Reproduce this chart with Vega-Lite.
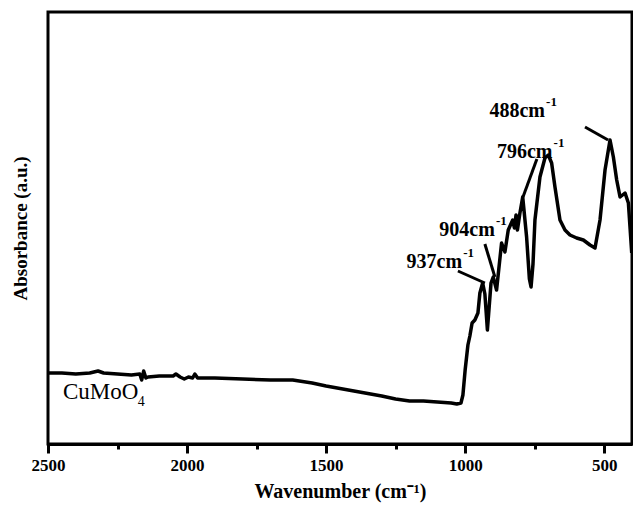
{
  "$schema": "https://vega.github.io/schema/vega-lite/v6.json",
  "width": 584,
  "height": 432,
  "autosize": {"type": "none"},
  "padding": {"left": 48, "top": 12, "right": 1, "bottom": 62},
  "background": "white",
  "config": {
    "view": {"stroke": "black", "strokeWidth": 3},
    "font": "Liberation Serif"
  },
  "datasets": {
    "curve": [
      {"wn": 2500, "a": 71}, {"wn": 2450, "a": 71}, {"wn": 2400, "a": 70}, {"wn": 2350, "a": 71},
      {"wn": 2320, "a": 73}, {"wn": 2300, "a": 71}, {"wn": 2250, "a": 70}, {"wn": 2200, "a": 69},
      {"wn": 2170, "a": 70}, {"wn": 2163, "a": 64}, {"wn": 2156, "a": 73}, {"wn": 2148, "a": 66},
      {"wn": 2140, "a": 67}, {"wn": 2100, "a": 68}, {"wn": 2050, "a": 68}, {"wn": 2040, "a": 70},
      {"wn": 2025, "a": 67}, {"wn": 2010, "a": 65}, {"wn": 1995, "a": 67}, {"wn": 1980, "a": 66},
      {"wn": 1972, "a": 70}, {"wn": 1962, "a": 66}, {"wn": 1900, "a": 66}, {"wn": 1800, "a": 65},
      {"wn": 1700, "a": 64}, {"wn": 1620, "a": 64}, {"wn": 1550, "a": 61}, {"wn": 1500, "a": 58},
      {"wn": 1400, "a": 53}, {"wn": 1300, "a": 48}, {"wn": 1250, "a": 45}, {"wn": 1200, "a": 43},
      {"wn": 1150, "a": 43}, {"wn": 1100, "a": 42}, {"wn": 1050, "a": 41}, {"wn": 1030, "a": 40},
      {"wn": 1015, "a": 41}, {"wn": 1008, "a": 49}, {"wn": 1000, "a": 74}, {"wn": 990, "a": 99},
      {"wn": 983, "a": 108}, {"wn": 975, "a": 121}, {"wn": 965, "a": 124}, {"wn": 954, "a": 131},
      {"wn": 947, "a": 151}, {"wn": 937, "a": 161}, {"wn": 929, "a": 150}, {"wn": 920, "a": 114},
      {"wn": 907, "a": 161}, {"wn": 899, "a": 167}, {"wn": 887, "a": 154}, {"wn": 869, "a": 201},
      {"wn": 857, "a": 192}, {"wn": 845, "a": 214}, {"wn": 829, "a": 224}, {"wn": 823, "a": 216},
      {"wn": 817, "a": 229}, {"wn": 812, "a": 214}, {"wn": 803, "a": 231}, {"wn": 793, "a": 247},
      {"wn": 779, "a": 207}, {"wn": 769, "a": 165}, {"wn": 763, "a": 157}, {"wn": 756, "a": 180},
      {"wn": 749, "a": 224}, {"wn": 731, "a": 267}, {"wn": 713, "a": 286}, {"wn": 701, "a": 289},
      {"wn": 689, "a": 281}, {"wn": 677, "a": 257}, {"wn": 659, "a": 224}, {"wn": 641, "a": 214},
      {"wn": 623, "a": 209}, {"wn": 599, "a": 206}, {"wn": 575, "a": 204}, {"wn": 551, "a": 199},
      {"wn": 533, "a": 196}, {"wn": 515, "a": 224}, {"wn": 497, "a": 274}, {"wn": 479, "a": 304},
      {"wn": 467, "a": 287}, {"wn": 455, "a": 264}, {"wn": 443, "a": 247}, {"wn": 425, "a": 251},
      {"wn": 413, "a": 241}, {"wn": 401, "a": 191}
    ],
    "labels": [
      {"wn": 713, "a": 333, "text": "488cm"},
      {"wn": 686, "a": 292, "text": "796cm"},
      {"wn": 893, "a": 214, "text": "904cm"},
      {"wn": 1011, "a": 182, "text": "937cm"}
    ],
    "sups": [
      {"wn": 709, "a": 342, "text": "-1"},
      {"wn": 682, "a": 301, "text": "-1"},
      {"wn": 889, "a": 223, "text": "-1"},
      {"wn": 1007, "a": 191, "text": "-1"}
    ],
    "leaders": [
      {"wn": 569, "a": 317, "wn2": 486, "a2": 304},
      {"wn": 742, "a": 285, "wn2": 792, "a2": 247},
      {"wn": 929, "a": 200, "wn2": 893, "a2": 167},
      {"wn": 1026, "a": 173, "wn2": 929, "a2": 161}
    ],
    "sample": [{"wn": 2446, "a": 52, "text": "CuMoO"}],
    "sub": [{"wn": 2177, "a": 42, "text": "4"}]
  },
  "layer": [
    {
      "data": {"name": "curve"},
      "mark": {"type": "line", "color": "black", "strokeWidth": 3.5, "clip": true, "strokeJoin": "round"},
      "encoding": {
        "x": {
          "field": "wn", "type": "quantitative",
          "scale": {"domain": [400, 2500], "reverse": true, "nice": false, "zero": false},
          "axis": {
            "values": [500, 750, 1000, 1250, 1500, 1750, 2000, 2250, 2500],
            "labelExpr": "datum.value % 500 === 0 ? datum.label : ''",
            "format": "d",
            "tickSize": {"condition": {"test": "datum.value % 500 === 0", "value": 9}, "value": 5},
            "tickWidth": 3,
            "tickColor": "black",
            "domain": true, "domainColor": "black", "domainWidth": 3,
            "grid": false,
            "labelFont": "Liberation Serif", "labelFontWeight": "bold", "labelFontSize": 17,
            "labelColor": "black", "labelPadding": 4, "labelFlush": false,
            "title": "Wavenumber (cm⁻¹)",
            "titleFont": "Liberation Serif", "titleFontWeight": "bold", "titleFontSize": 20,
            "titleColor": "black", "titlePadding": 8
          }
        },
        "y": {
          "field": "a", "type": "quantitative",
          "scale": {"domain": [0, 432], "nice": false, "zero": false},
          "axis": {
            "labels": false, "ticks": false, "grid": false, "domain": false,
            "title": "Absorbance (a.u.)",
            "titleFont": "Liberation Serif", "titleFontWeight": "bold", "titleFontSize": 19,
            "titleColor": "black", "titlePadding": 18
          }
        }
      }
    },
    {
      "data": {"name": "leaders"},
      "mark": {"type": "rule", "color": "black", "strokeWidth": 3},
      "encoding": {
        "x": {"field": "wn", "type": "quantitative"},
        "y": {"field": "a", "type": "quantitative"},
        "x2": {"field": "wn2"},
        "y2": {"field": "a2"}
      }
    },
    {
      "data": {"name": "labels"},
      "mark": {"type": "text", "align": "right", "baseline": "middle", "font": "Liberation Serif", "fontWeight": "bold", "fontSize": 20, "fill": "black"},
      "encoding": {
        "x": {"field": "wn", "type": "quantitative"},
        "y": {"field": "a", "type": "quantitative"},
        "text": {"field": "text"}
      }
    },
    {
      "data": {"name": "sups"},
      "mark": {"type": "text", "align": "left", "baseline": "middle", "font": "Liberation Serif", "fontWeight": "bold", "fontSize": 13, "fill": "black"},
      "encoding": {
        "x": {"field": "wn", "type": "quantitative"},
        "y": {"field": "a", "type": "quantitative"},
        "text": {"field": "text"}
      }
    },
    {
      "data": {"name": "sample"},
      "mark": {"type": "text", "align": "left", "baseline": "middle", "font": "Liberation Serif", "fontSize": 23, "fill": "black"},
      "encoding": {
        "x": {"field": "wn", "type": "quantitative"},
        "y": {"field": "a", "type": "quantitative"},
        "text": {"field": "text"}
      }
    },
    {
      "data": {"name": "sub"},
      "mark": {"type": "text", "align": "left", "baseline": "middle", "font": "Liberation Serif", "fontSize": 14, "fill": "black"},
      "encoding": {
        "x": {"field": "wn", "type": "quantitative"},
        "y": {"field": "a", "type": "quantitative"},
        "text": {"field": "text"}
      }
    }
  ]
}
